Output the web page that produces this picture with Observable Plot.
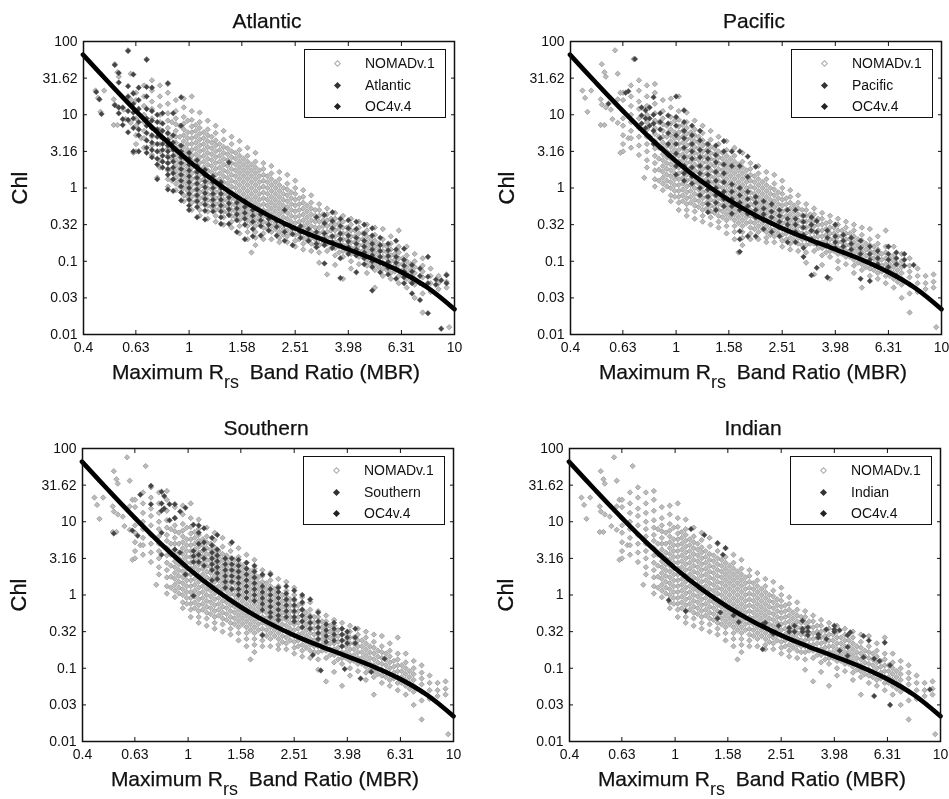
<!DOCTYPE html>
<html><head><meta charset="utf-8">
<script src="https://cdn.jsdelivr.net/npm/d3@7"></script>
<script src="https://cdn.jsdelivr.net/npm/@observablehq/plot@0.6"></script>
<style>
html,body{margin:0;padding:0;background:#fff;width:949px;height:799px;overflow:hidden;font-family:"Liberation Sans",Arial,sans-serif;color:#111}
#page{position:relative;width:949px;height:799px;filter:blur(0.3px)}
.abs{position:absolute;white-space:nowrap}
.title{font-size:21px;transform:translateX(-50%);-webkit-text-stroke:.25px #111}
.xl{font-size:21px;transform:translateX(-50%);-webkit-text-stroke:.25px #111}
.xl sub{font-size:18px;line-height:0;vertical-align:-9px;margin-right:5px;-webkit-text-stroke:0}
.yl{font-size:22px;transform:translate(-50%,-50%) rotate(-90deg);-webkit-text-stroke:.3px #111}
.legend{position:absolute;width:140px;height:67px;border:1.5px solid #111;background:#fff;font-size:14px}
.legend span{position:absolute;left:60px}
.legend i{position:absolute;left:30px;display:block;transform:rotate(45deg)}
svg{position:absolute;overflow:visible}
</style></head><body><div id="page"></div>
<script>
// tick labels
const xTickLabels = ["0.4","0.63","1","1.58","2.51","3.98","6.31","10"];
const yTickLabels = ["0.01","0.03","0.1","0.32","1","3.16","10","31.62","100"];
const yTickValues = [0.01,0.0316,0.1,0.316,1,3.16,10,31.62,100];
const basinNames = ["Atlantic","Pacific","Southern","Indian"];

// All scatter values are log10(MBR) with a list of log10(Chl)
const oc4Log = [[-.4,1.82],[-.3,1.43],[-.2,1.05],[-.1,.69],[0,.366],[.1,.08],[.2,-.167],[.3,-.375],[.4,-.55],[.5,-.7],[.6,-.838],[.7,-.98],[.8,-1.148],[.9,-1.363],[1,-1.654]];

const nomadLog = [
[-.353,[1.33]],[-.343,[1.23]],[-.334,[1.04]],[-.32,[1.33]],[-.284,[.86,1.21]],[-.28,[1.69,1.14]],[-.27,[1.58,.86]],[-.265,[1.52,1.1]],
[-.246,[1.07]],[-.24,[.94]],[-.23,[1.88]],[-.22,[1.56,1.21,.89]],[-.21,[1.3,.48]],
[-.2,[1.3,1.2,1.05,.95,.85,.72,.6,.5]],[-.18,[.68]],[-.17,[1.4,1.25,1.12,1,.9,.78,.68,.55]],
[-.16,[1.76]],[-.14,[1.47,1.33,1.18,1.08,.95,.82,.7,.58,.45]],[-.12,[.14]],
[-.11,[1.4,1.25,1.12,1,.9,.8,.7,.6,.5,.38,.28]],
[-.08,[1.42,1.3,1.15,1.02,.92,.82,.74,.64,.54,.44,.34,.24,.12,.02]],
[-.05,[1.2,1.05,.95,.87,.78,.7,.62,.54,.46,.38,.3,.22,.14,.06,-.03]],
[-.02,[1.22,1.1,.97,.88,.8,.72,.64,.56,.48,.4,.32,.24,.16,.08,0,-.1,-.18]],
[.01,[1.25,1.05,.93,.84,.76,.68,.6,.52,.44,.36,.28,.2,.12,.04,-.04,-.12,-.2,-.3]],
[.04,[1.03,.9,.82,.74,.66,.58,.5,.42,.34,.26,.18,.1,.02,-.06,-.14,-.22,-.3,-.38]],
[.07,[.92,.8,.72,.64,.56,.48,.4,.32,.24,.16,.08,0,-.08,-.16,-.24,-.32,-.42]],
[.1,[.85,.75,.65,.58,.5,.42,.34,.26,.18,.1,.02,-.06,-.14,-.22,-.3,-.38,-.46]],
[.13,[.78,.66,.56,.48,.4,.32,.24,.16,.08,0,-.08,-.16,-.24,-.32,-.4,-.5]],
[.16,[.7,.6,.5,.42,.34,.26,.18,.1,.02,-.06,-.14,-.22,-.3,-.38,-.46,-.54]],
[.19,[.64,.52,.44,.36,.28,.2,.12,.04,-.04,-.12,-.2,-.28,-.36,-.44,-.52,-.62]],
[.22,[.55,.44,.36,.28,.2,.12,.04,-.04,-.12,-.2,-.28,-.36,-.44,-.52,-.6,-.7]],
[.235,[-.88]],
[.25,[.48,.36,.28,.2,.12,.04,-.04,-.12,-.2,-.28,-.36,-.44,-.52,-.6,-.68,-.78]],
[.28,[.34,.26,.18,.1,.02,-.06,-.14,-.22,-.3,-.38,-.46,-.54,-.62,-.7]],
[.31,[.3,.2,.12,.04,-.04,-.12,-.2,-.28,-.36,-.44,-.52,-.6,-.7]],
[.34,[.22,.12,.04,-.04,-.12,-.2,-.28,-.36,-.44,-.52,-.6,-.68,-.74]],
[.37,[.18,.06,-.02,-.1,-.18,-.26,-.34,-.42,-.5,-.58,-.66,-.74]],
[.4,[.1,0,-.08,-.16,-.24,-.32,-.4,-.48,-.56,-.64,-.72,-.8]],
[.43,[-.03,-.12,-.2,-.28,-.36,-.44,-.52,-.6,-.68,-.76,-.84]],
[.46,[-.1,-.2,-.28,-.36,-.44,-.52,-.6,-.68,-.76,-.86]],
[.49,[-.22,-.3,-.38,-.46,-.54,-.62,-.7,-.78,-.88,-1.02]],
[.52,[-.28,-.36,-.44,-.52,-.6,-.68,-.76,-.86,-1.18]],
[.55,[-.34,-.42,-.5,-.58,-.66,-.74,-.82,-.92,-1.05]],
[.58,[-.38,-.46,-.54,-.62,-.7,-.78,-.86,-.94,-1.24]],
[.61,[-.42,-.5,-.58,-.66,-.74,-.82,-.9,-1,-1.1]],
[.64,[-.46,-.54,-.62,-.7,-.78,-.86,-.94,-1.04]],
[.67,[-.5,-.58,-.66,-.74,-.82,-.9,-.98,-1.06,-1.16]],
[.7,[-.54,-.64,-.72,-.8,-.88,-.96,-1.04,-1.12,-1.36]],
[.73,[-.56,-.7,-.78,-.86,-.94,-1.02,-1.1,-1.2]],
[.76,[-.66,-.76,-.84,-.92,-1,-1.08,-1.16,-1.24]],
[.79,[-.58,-.8,-.88,-.96,-1.04,-1.12,-1.2,-1.3]],
[.82,[-.8,-.92,-1,-1.08,-1.16,-1.24,-1.36]],
[.85,[-.9,-1,-1.08,-1.16,-1.24,-1.32,-1.5]],
[.88,[-.96,-1.06,-1.14,-1.22,-1.32,-1.44,-1.7]],
[.91,[-1.1,-1.2,-1.3,-1.42]],[.94,[-1.2,-1.3,-1.38]],[.97,[-1.18,-1.28,-1.36]],[.98,[-1.9]]
];

// the crowded middle of the NOMAD cloud
const nomadDenseLog = [
[-.065,[.9,.7,.55,.4,.25,.1]],[-.035,[.85,.7,.58,.5,.42,.34,.26,.18,.1,.02]],
[-.005,[.92,.76,.68,.6,.52,.44,.36,.28,.2,.12,.04,-.04,-.12]],[.025,[.86,.78,.7,.62,.54,.46,.38,.3,.22,.14,.06,-.02,-.1,-.18]],
[.055,[.76,.68,.6,.52,.44,.36,.28,.2,.12,.04,-.04,-.12,-.2]],[.085,[.7,.62,.54,.46,.38,.3,.22,.14,.06,-.02,-.1,-.18,-.26]],
[.115,[.6,.52,.44,.36,.28,.2,.12,.04,-.04,-.12,-.2,-.28]],[.145,[.54,.46,.38,.3,.22,.14,.06,-.02,-.1,-.18,-.26,-.34]],
[.175,[.48,.4,.32,.24,.16,.08,0,-.08,-.16,-.24,-.32,-.4]],[.205,[.4,.32,.24,.16,.08,0,-.08,-.16,-.24,-.32,-.4]],
[.235,[.32,.24,.16,.08,0,-.08,-.16,-.24,-.32,-.4,-.48]],[.265,[.24,.16,.08,0,-.08,-.16,-.24,-.32,-.4,-.48]],
[.295,[.16,.08,0,-.08,-.16,-.24,-.32,-.4,-.48,-.56]],[.325,[.08,0,-.08,-.16,-.24,-.32,-.4,-.48,-.56]],
[.355,[0,-.08,-.16,-.24,-.32,-.4,-.48,-.56,-.64]],[.385,[-.06,-.14,-.22,-.3,-.38,-.46,-.54,-.62]],
[.415,[-.14,-.22,-.3,-.38,-.46,-.54,-.62,-.7]],[.445,[-.24,-.32,-.4,-.48,-.56,-.64,-.72]],
[.475,[-.3,-.38,-.46,-.54,-.62,-.7,-.78]],[.505,[-.36,-.44,-.52,-.6,-.68,-.76]],
[.535,[-.42,-.5,-.58,-.66,-.74,-.82]],[.565,[-.48,-.56,-.64,-.72,-.8,-.88]],
[.595,[-.54,-.62,-.7,-.78,-.86]],[.625,[-.58,-.66,-.74,-.82,-.9]],[.655,[-.62,-.7,-.78,-.86,-.94]],
[.685,[-.7,-.78,-.86,-.94,-1.02]],[.715,[-.76,-.84,-.92,-1,-1.08]],[.745,[-.8,-.88,-.96,-1.04,-1.12]],
[.775,[-.9,-.98,-1.06,-1.14]],[.805,[-.96,-1.04,-1.12,-1.2]],[.835,[-1.04,-1.12,-1.2,-1.28]]
];

const atlanticLog = [
[-.35,[1.31]],[-.338,[1.21]],[-.33,[1.01]],[-.28,[1.68,1.13]],[-.265,[1.57,1.44,1.1,1.02]],[-.25,[1.1,.94,.86]],
[-.23,[1.87,1.39,1.25,1.05,.93,.76]],[-.21,[1.55,1.29,1.15,1.03,.95,.82,.5]],[-.19,[1.37,1.2,1.08,.9,.8,.72,.5]],
[-.16,[1.75,1.38,1.25,1.08,.95,.85,.75,.65,.55,.48]],[-.14,[1.37,1.05,.92,.82,.72,.62,.52,.42]],
[-.12,[1,.9,.8,.7,.6,.5,.4,.32,.12]],[-.1,[1.02,.88,.78,.68,.6,.52,.44,.36,.28]],
[-.08,[1.43,.75,.66,.58,.5,.42,.34,.26,.18,-.02]],[-.06,[1.02,.72,.62,.52,.44,.36,.28,.2,.12,-.04]],
[-.03,[1.24,.85,.58,.5,.42,.34,.26,.18,.1,.02,-.06,-.17]],[0,[.48,.4,.32,.24,.16,.08,0,-.08,-.16,-.24,-.3]],
[.03,[.38,.3,.22,.14,.06,-.02,-.1,-.18,-.26,-.4]],[.06,[.25,.17,.09,.01,-.07,-.15,-.23,-.31,-.43]],
[.09,[.16,.08,0,-.08,-.16,-.24,-.32]],[.12,[.08,0,-.08,-.16,-.24,-.32,-.4,-.49]],[.15,[.35,-.05,-.13,-.21,-.29,-.37,-.49]],
[.18,[-.12,-.2,-.28,-.36,-.44,-.6]],[.21,[-.18,-.26,-.34,-.42,-.5,-.7]],[.24,[-.3,-.38,-.46,-.56,-.66]],[.27,[-.36,-.44,-.52,-.65]],
[.3,[-.42,-.5,-.58]],[.33,[-.45,-.53,-.65]],[.36,[-.3,-.5,-.6,-.72]],[.39,[-.55,-.63,-.78]],[.42,[-.52,-.6,-.68]],[.45,[-.56,-.64,-.72]],
[.48,[-.4,-.6,-.68,-.76,-.81]],[.51,[-.37,-.48,-.62,-.7,-.78,-1.03]],[.54,[-.33,-.45,-.55,-.66,-.74,-.82]],
[.57,[-.42,-.52,-.62,-.7,-.78,-.96,-1.23]],[.6,[-.44,-.55,-.65,-.73,-.81,-.9]],[.63,[-.46,-.56,-.68,-.76,-.84,-.92,-1.15]],
[.66,[-.5,-.62,-.72,-.8,-.88,-.96,-1.04]],[.69,[-.55,-.65,-.76,-.84,-.92,-1,-1.08,-1.4]],[.72,[-.68,-.78,-.86,-.94,-1.02,-1.15]],
[.75,[-.76,-.85,-.93,-1.01,-1.09,-1.18]],[.78,[-.72,-.84,-.94,-1.02,-1.1,-1.24]],[.81,[-.83,-.98,-1.06,-1.14,-1.22,-1.3]],
[.84,[-1.05,-1.14,-1.22,-1.3,-1.44]],[.87,[-1.1,-1.2,-1.3,-1.53]],[.9,[-.94,-1.21,-1.3,-1.71]],[.93,[-1.25,-1.32]],[.95,[-1.26,-1.92]],[.97,[-1.19,-1.3]]
];

const pacificLog = [
[-.255,[1.15]],[-.19,[1.3]],[-.18,[1.32]],[-.155,[1.76]],[-.13,[.99,1.1,.88]],[-.115,[1.06,.95,.82]],[-.1,[1.1,.95,.85,.7]],
[-.085,[1.24,1,.88,.78,.6]],[-.06,[1.02,.9,.8,.68,.55]],[-.03,[.99,.88,.75,.6,.45]],[0,[1.25,.97,.85,.72,.6,.47,.3,.18]],
[.03,[1.06,.9,.78,.68,.55,.42,.3,.2,.1]],[.06,[.85,.72,.6,.5,.4,.28,.16,.06]],[.09,[.78,.65,.52,.42,.3,.2,.1,0,-.1]],
[.12,[.6,.5,.4,.28,.18,.08,-.02,-.12,-.22,-.33]],[.15,[.58,.45,.35,.22,.1,0,-.1,-.2,-.3]],[.18,[.64,.5,.32,.2,.08,-.05,-.15,-.25]],
[.21,[.5,.3,.05,-.05,-.15,-.25,-.35]],[.24,[.5,.3,0,-.1,-.2,-.3,-.59,-.7,-.87]],[.27,[.43,.15,-.05,-.15,-.25,-.35,-.66]],
[.3,[.29,-.12,-.2,-.3,-.4,-.66]],[.33,[-.18,-.28,-.36,-.44,-.56]],[.36,[-.22,-.32,-.4,-.48,-.6]],[.39,[-.3,-.38,-.46,-.54,-.66]],
[.42,[-.3,-.42,-.5,-.58,-.74]],[.45,[-.3,-.42,-.5,-.6,-.74]],[.48,[-.38,-.46,-.54,-.64,-.82,-.94]],[.51,[-.4,-.5,-.58,-.7,-1.19]],
[.53,[-.45,-.6,-.76,-1.09]],[.57,[-.58,-.68,-.78,-1.22]],[.6,[-.5,-.66,-.74,-.82]],[.63,[-.64,-.72,-.8,-.88]],[.66,[-.68,-.76,-.84,-.92]],
[.695,[-.72,-.82,-.9,-1.24]],[.73,[-.8,-.9,-.98,-1.27]],[.76,[-.86,-.96,-1.04]],[.8,[-.8,-.9,-.98,-1.08]],[.83,[-.88,-.96,-1.04,-1.2]],
[.86,[-.9,-.98,-1.06]],[.895,[-1.05]]
];

const southernLog = [
[-.28,[.84]],[-.21,[.88]],[-.19,[.81]],[-.18,[1.37]],[-.14,[1.49,1.24]],[-.1,[1.41,1.25,1.15,.85,.55]],[-.09,[1.35,1.18]],[-.07,[1.24,1.02]],
[-.05,[1.24,1.05,.62]],[-.03,[1.14,.58]],[-.01,[1.19,.28]],[.02,[.96,.6,.53,.45,-.01]],[.04,[.95,.85,.7,.55,.45]],[.06,[.91,.72,.62,.5,.4]],
[.09,[.78,.68,.58,.5,.42,.34,.2]],[.11,[.82,.62,.54,.46,.38,.3,.22]],[.14,[.5,.42,.34,.26,.18,.1]],[.165,[.72,.5,.42,.34,.26,.18,.08]],
[.19,[.48,.4,.32,.24,.16,.08,0]],[.22,[.44,.36,.28,.2,.12,.04,-.04]],[.25,[.4,.32,.24,.16,.08,0,-.08]],[.28,[.28,.12,.04,-.04,-.12,-.2,-.55]],
[.31,[.28,.08,0,-.08,-.16,-.24,-.3]],[.34,[.1,.04,-.04,-.12,-.2,-.28,-.34]],[.37,[.12,.02,-.06,-.14,-.22,-.3]],[.4,[.06,-.06,-.14,-.22,-.3,-.36]],
[.43,[0,-.1,-.2,-.28,-.36,-.44]],[.46,[-.06,-.3,-.38,-.46]],[.47,[-.82]],[.49,[-.24,-.36,-.44,-.52,-.6]],[.5,[-1.03]],[.52,[-.4,-.48,-.56,-.64]],
[.55,[-.38,-.46,-.54,-.62]],[.58,[-.46,-.54,-.62,-.7]],[.59,[-1.01]],[.6,[-.5,-.58,-.66]],[.63,[-.46,-.58,-.66]],[.65,[-1.14]],[.69,[-1.05]],[.74,[-.87]]
];

const indianLog = [
[-.024,[-.07]],[.04,[-.22]],[.06,[.9]],[.11,[.82]],[.16,[.71,-.32]],[.17,[-.24]],[.18,[.55]],[.19,[.64]],[.22,[-.28]],[.24,[-.37]],
[.33,[-.74,-.4]],[.34,[-.38]],[.36,[-.49]],[.37,[-.53]],[.39,[-.42]],[.43,[-.45,-.5]],[.45,[-.42,-.5]],[.48,[-.35,-.46,-.5]],[.5,[-.44,-.5,-.55]],
[.54,[-.54,-.58]],[.57,[-.47,-.6]],[.6,[-.47,-.42,-.5]],[.62,[-.76,-.48]],[.65,[-.71,-.83,-.55]],[.66,[-.51]],[.71,[-.56,-.85]],[.73,[-.62]],
[.75,[-.87,-1.38]],[.77,[-.9]],[.79,[-.65]],[.81,[-.96,-1.5]],[.96,[-1.29]]
];

const basinLogs = [atlanticLog, pacificLog, southernLog, indianLog];

// frames of the four panels on the page
const frameW = 371, frameH = 293;
const panelLefts = [83, 570, 82, 569];
const panelTops = [41, 41, 448, 448];

const page = document.getElementById("page");
const flatten = cols => cols.flatMap(([lx, lys]) => lys.map(ly => ({mbr: 10 ** lx, chl: 10 ** ly})));
const nomad = flatten(nomadLog).concat(flatten(nomadDenseLog));
const oc4 = oc4Log.map(([lx, ly]) => ({mbr: 10 ** lx, chl: 10 ** ly}));
const xTickValues = xTickLabels.map(Number);

function add(cls, html, left, top) {
  const d = document.createElement("div");
  d.className = "abs " + cls; d.innerHTML = html;
  d.style.left = left + "px"; d.style.top = top + "px";
  page.appendChild(d);
  return d;
}

basinNames.forEach((name, i) => {
  const L = panelLefts[i], T = panelTops[i];
  const mL = 50, mT = 6, mB = 26, mR = 16;
  const xOpts = {ticks: xTickValues, tickSize: -4, tickFormat: () => "", label: null};
  const yOpts = {ticks: yTickValues, tickSize: -4, tickFormat: () => "", label: null};
  const svg = Plot.plot({
    width: frameW + mL + mR, height: frameH + mT + mB,
    marginLeft: mL, marginRight: mR, marginTop: mT, marginBottom: mB,
    style: {fontFamily: "Liberation Sans, Arial, sans-serif", fontSize: "14px", color: "#111", background: "transparent"},
    x: {type: "log", domain: [0.4, 10], axis: null},
    y: {type: "log", domain: [0.01, 100], axis: null},
    marks: [
      Plot.dot(nomad, {x: "mbr", y: "chl", symbol: "diamond2", r: 2.4, fill: "#bcbcbc", stroke: "#999999", strokeWidth: 0.8}),
      Plot.dot(flatten(basinLogs[i]), {x: "mbr", y: "chl", symbol: "diamond2", r: 2.5, fill: "#444444", stroke: "#555", strokeWidth: 0.5}),
      Plot.line(oc4, {x: "mbr", y: "chl", curve: "catmull-rom", stroke: "#000", strokeWidth: 4.6}),
      Plot.frame({stroke: "#111", strokeWidth: 1.5}),
      Plot.axisX({...xOpts, anchor: "bottom"}),
      Plot.axisX({...xOpts, anchor: "top"}),
      Plot.axisY({...yOpts, anchor: "left"}),
      Plot.axisY({...yOpts, anchor: "right"}),
      Plot.text(xTickValues, {x: d => d, frameAnchor: "bottom", lineAnchor: "middle", dy: 13, text: (d, k) => xTickLabels[k], fill: "#111"}),
      Plot.text(yTickValues, {y: d => d, frameAnchor: "left", textAnchor: "end", dx: -6, text: (d, k) => yTickLabels[k], fill: "#111"})
    ]
  });
  svg.style.left = (L - mL) + "px";
  svg.style.top = (T - mT) + "px";
  page.appendChild(svg);

  add("title", name, L + 184, T - 32);
  add("xl", "Maximum R<sub>rs</sub> Band Ratio (MBR)", L + 183, T + 319);
  add("yl", "Chl", L - 63, T + 147);

  const lg = document.createElement("div");
  lg.className = "legend";
  lg.style.left = (L + frameW - 150) + "px";
  lg.style.top = (T + 8) + "px";
  lg.innerHTML =
    `<i style="top:11px;width:3px;height:3px;border:1px solid #aaa"></i><span style="top:5px">NOMADv.1</span>` +
    `<i style="top:33px;width:5px;height:5px;background:#333"></i><span style="top:27px">${name}</span>` +
    `<i style="top:54px;width:5px;height:5px;background:#222"></i><span style="top:48px">OC4v.4</span>`;
  page.appendChild(lg);
});
</script></body></html>
